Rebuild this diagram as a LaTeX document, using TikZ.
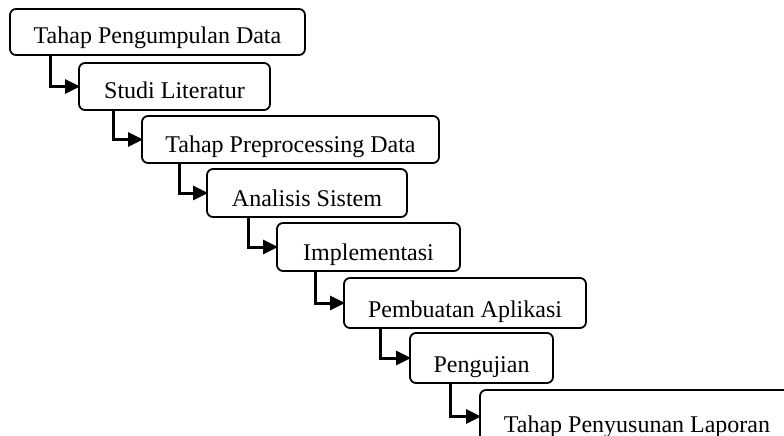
\documentclass[tikz,border=0pt]{standalone}
\usepackage{fontspec}
\setmainfont{Liberation Serif}
\usetikzlibrary{arrows.meta}
\begin{document}
\begin{tikzpicture}[x=1pt,y=-1pt,
  stage/.style={draw=black,line width=1.8pt,rounded corners=6pt},
  lbl/.style={anchor=base,inner sep=0pt,font=\fontsize{24}{28}\selectfont},
  conn/.style={line width=3pt,-{Triangle[length=15pt,width=14pt]},shorten >=-1pt}]
\useasboundingbox (0,0) rectangle (784,436);
\clip (0,0) rectangle (784,436);
% boxes: name, left, top, right, bottom, text
\newcommand{\stagebox}[6]{%
  \draw[stage] (#2,#3) rectangle (#4,#5);
  \coordinate (#1w) at (#2,{(#3+#5)/2});
  \coordinate (#1sw) at (#2,#5);
  \node[lbl] (#1) at ({(#2+#4)/2},{#5-11}) {#6};}
\stagebox{b1}{10}{9}{305}{55}{Tahap Pengumpulan Data}
\stagebox{b2}{79}{63}{270}{110}{Studi Literatur}
\stagebox{b3}{142}{116}{439}{163}{Tahap Preprocessing Data}
\stagebox{b4}{207}{169}{407}{217}{Analisis Sistem}
\stagebox{b5}{277}{223}{460}{271}{Implementasi}
\stagebox{b6}{344}{278}{586}{328}{Pembuatan Aplikasi}
\stagebox{b7}{410}{333}{553}{383}{Pengujian}
\stagebox{b8}{480}{390}{794}{443}{Tahap Penyusunan Laporan}
\draw[conn] ([xshift=40pt]b1sw) |- (b2w);
\draw[conn] ([xshift=34pt]b2sw) |- (b3w);
\draw[conn] ([xshift=37pt]b3sw) |- (b4w);
\draw[conn] ([xshift=41pt]b4sw) |- (b5w);
\draw[conn] ([xshift=38pt]b5sw) |- (b6w);
\draw[conn] ([xshift=36pt]b6sw) |- (b7w);
\draw[conn] ([xshift=40pt]b7sw) |- (b8w);
\end{tikzpicture}
\end{document}
